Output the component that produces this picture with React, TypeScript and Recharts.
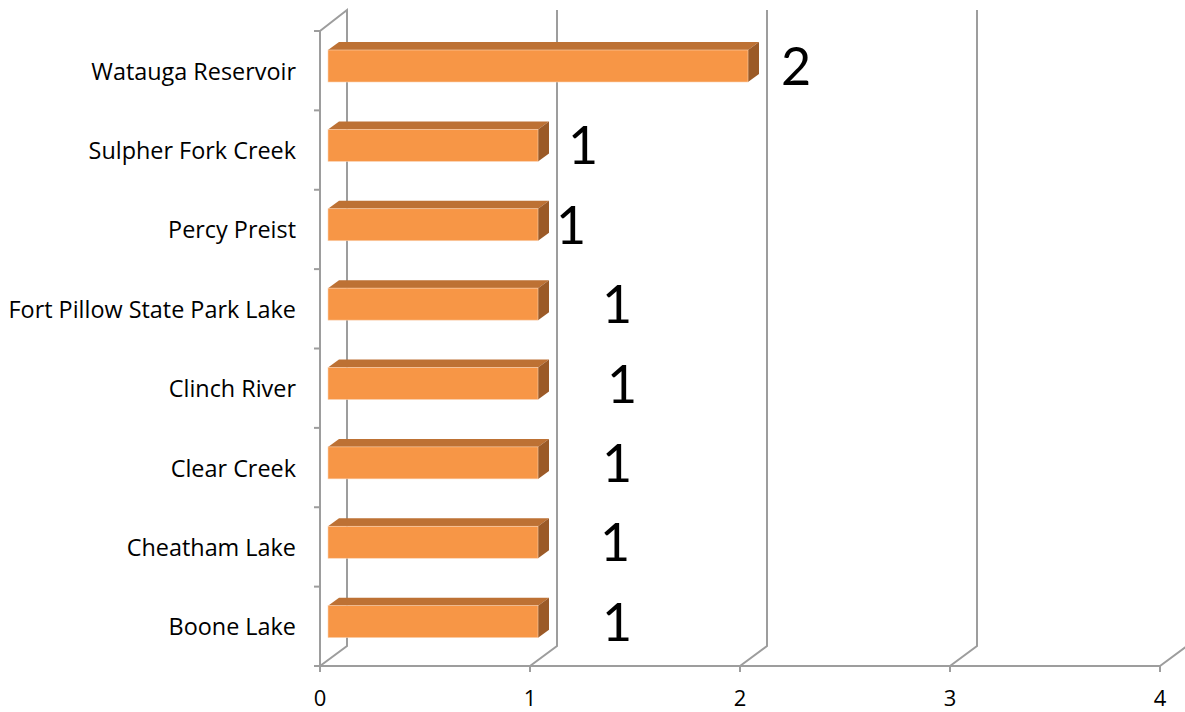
import { Bar, BarChart, CartesianGrid, LabelList, XAxis, YAxis } from 'recharts';

const lakes = [
  'Watauga Reservoir',
  'Sulpher Fork Creek',
  'Percy Preist',
  'Fort Pillow State Park Lake',
  'Clinch River',
  'Clear Creek',
  'Cheatham Lake',
  'Boone Lake',
];
const counts = [2, 1, 1, 1, 1, 1, 1, 1];
const xTicks = [0, 1, 2, 3, 4];

// hand-placed label nudges, as in the original sheet
const labelDx = [48, 45, 33, 79, 84, 79, 77, 79];

const data = lakes.map((name, i) => ({ name, count: counts[i] }));

const W = 1185;
const H = 712;
const PLOT_LEFT = 320;
const PLOT_TOP = 31;
const PLOT_BOTTOM = 666;
const BAND = (PLOT_BOTTOM - PLOT_TOP) / lakes.length;
const DEPTH_X = 27;
const DEPTH_Y = 20;
const GRID = '#9d9d9d';
const TEXT_FONT = '"Open Sans", sans-serif';
const NUM_FONT = 'Lato, "Open Sans", sans-serif';

function GridLine(props: any) {
  const { x1, y1, y2 } = props;
  const bx = x1 + DEPTH_X;
  let pts = `${x1},${y2} ${bx},${y2 - DEPTH_Y} ${bx},${y1 - DEPTH_Y - 1}`;
  if (Math.abs(x1 - PLOT_LEFT) < 1) pts += ` ${x1},${y1}`;
  return <polyline key={props.key} points={pts} fill="none" stroke={GRID} strokeWidth={2} />;
}

function Bar3D(props: any) {
  const { x, y, width, height } = props;
  const fx = x + 8;
  const fy = y - 5;
  const dx = 11;
  const dy = 8;
  return (
    <g>
      <polygon
        points={`${fx},${fy} ${fx + dx},${fy - dy} ${fx + width + dx},${fy - dy} ${fx + width},${fy}`}
        fill="#bd7134"
      />
      <polygon
        points={`${fx + width},${fy} ${fx + width + dx},${fy - dy} ${fx + width + dx},${fy + height - dy} ${fx + width},${fy + height}`}
        fill="#9b5a27"
      />
      <rect x={fx} y={fy} width={width} height={height} fill="#f79646" stroke="#fbd3b3" strokeWidth={0.6} />
    </g>
  );
}

function LakeTick(props: any) {
  const { y, payload, index } = props;
  const top = y - BAND / 2;
  return (
    <g>
      <line x1={PLOT_LEFT - 6} x2={PLOT_LEFT} y1={top} y2={top} stroke={GRID} strokeWidth={2} />
      {index === lakes.length - 1 && (
        <line x1={PLOT_LEFT - 6} x2={PLOT_LEFT} y1={top + BAND} y2={top + BAND} stroke={GRID} strokeWidth={2} />
      )}
      <text x={296} y={y} dy={9} textAnchor="end" fontSize={23.4} fill="#000" fontFamily={TEXT_FONT}>
        {payload.value}
      </text>
    </g>
  );
}

function CountLabel(props: any) {
  const { x, y, width, height, value, index } = props;
  return (
    <text
      x={x + 8 + width + labelDx[index]}
      y={y - 5 + height / 2 + 19}
      textAnchor="middle"
      fontSize={52}
      fill="#000"
      fontFamily={NUM_FONT}
    >
      {value}
    </text>
  );
}

export default function App() {
  return (
    <div style={{ position: 'fixed', left: 0, top: 0, width: W, height: H, background: '#fff' }}>
      <BarChart
        width={W}
        height={H}
        data={data}
        layout="vertical"
        margin={{ top: PLOT_TOP, right: W - 1160, bottom: 0, left: 0 }}
        barSize={32}
      >
        <CartesianGrid horizontal={false} vertical={GridLine} />
        <XAxis
          type="number"
          domain={[0, 4]}
          ticks={xTicks}
          height={H - PLOT_BOTTOM}
          axisLine={{ stroke: GRID, strokeWidth: 2 }}
          tickLine={{ stroke: GRID, strokeWidth: 2 }}
          tickSize={6}
          tickMargin={18}
          tick={{ fontSize: 22, fill: '#000', fontFamily: TEXT_FONT }}
        />
        <YAxis
          type="category"
          dataKey="name"
          width={PLOT_LEFT}
          axisLine={{ stroke: GRID, strokeWidth: 2 }}
          tickLine={false}
          tick={<LakeTick />}
          interval={0}
        />
        <Bar dataKey="count" shape={<Bar3D />} isAnimationActive={false}>
          <LabelList dataKey="count" content={<CountLabel />} />
        </Bar>
      </BarChart>
    </div>
  );
}
